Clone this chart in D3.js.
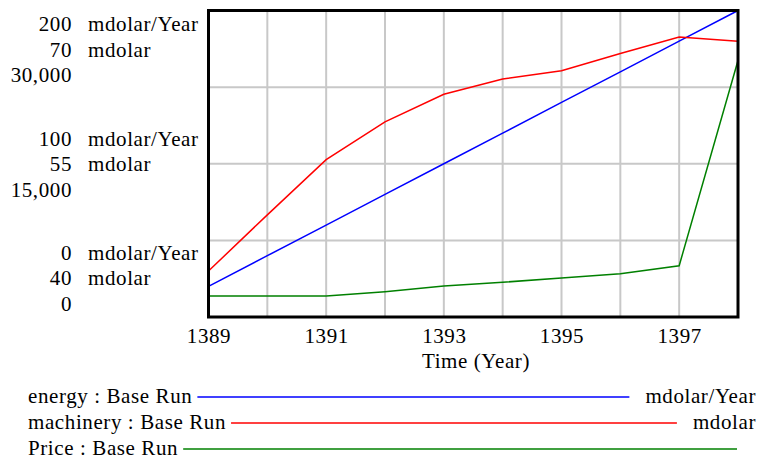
<!DOCTYPE html>
<html><head><meta charset="utf-8">
<script src="https://cdn.jsdelivr.net/npm/d3@7"></script>
<style>
html,body{margin:0;padding:0;background:#fff;}
text{font-family:"Liberation Serif","Times New Roman",serif;font-size:21px;fill:#000;letter-spacing:0.6px;}
</style></head><body>
<svg id="chart" width="757" height="459"></svg>
<script>
const years = [1389,1390,1391,1392,1393,1394,1395,1396,1397,1398];
const energy = [20,40,60,80,100,120,140,160,180,200];
const machinery = [44.5,50.0,55.4,59.1,61.8,63.3,64.1,65.8,67.4,67.0];
const price = [2050,2050,2050,2480,3030,3400,3820,4240,5020,25100];
const xTicks = [1389,1391,1393,1395,1397];
const energyLabels = ["0","100","200"];
const machineryLabels = ["40","55","70"];
const priceLabels = ["0","15,000","30,000"];
const seriesNames = ["energy : Base Run","machinery : Base Run","Price : Base Run"];
const seriesUnits = ["mdolar/Year","mdolar",""];
const colors = ["#0000ff","#ff0000","#008000"];
const legendColors = ["#4040ff","#ff4040","#40a040"];

const svg = d3.select("#chart");
const L=208.5, R=738, T=10.5, B=317;
const x = d3.scaleLinear().domain([1389,1398]).range([L,R]);
const yE = d3.scaleLinear().domain([0,200]).range([B,T]);
const yM = d3.scaleLinear().domain([40,70]).range([B,T]);
const yP = d3.scaleLinear().domain([0,30000]).range([B,T]);
const yG = d3.scaleLinear().domain([0,4]).range([B,T]);

// grid
const g = svg.append("g");
g.selectAll(".vg").data(d3.range(1390,1398)).join("line")
  .attr("x1",d=>x(d)).attr("x2",d=>x(d)).attr("y1",T).attr("y2",B)
  .attr("stroke","#c8c8c8").attr("stroke-width",2);
g.selectAll(".hg").data([1,2,3]).join("line")
  .attr("x1",L).attr("x2",R).attr("y1",d=>yG(d)).attr("y2",d=>yG(d))
  .attr("stroke","#c8c8c8").attr("stroke-width",2);

// lines
const sets = [[energy,yE],[machinery,yM],[price,yP]];
sets.forEach(([vals,ys],i)=>{
  svg.append("path").datum(vals)
    .attr("fill","none").attr("stroke",colors[i]).attr("stroke-width",1.5)
    .attr("d", d3.line().x((d,j)=>x(years[j])).y(d=>ys(d)));
});

// frame
svg.append("rect").attr("x",L).attr("y",T).attr("width",R-L).attr("height",B-T)
  .attr("fill","none").attr("stroke","#000").attr("stroke-width",3);

// x axis labels
const xa = d3.axisBottom(x).tickValues(xTicks).tickSize(0).tickFormat(d3.format("d"));
const ax = svg.append("g").attr("transform",`translate(0,${B})`).call(xa);
ax.select(".domain").remove();
ax.selectAll("text").attr("dy",null).attr("y",26).style("font-size","21px").style("font-family","Liberation Serif");
svg.append("text").attr("x",476).attr("y",368).attr("text-anchor","middle").text("Time (Year)");

// y labels (Vensim style stacks)
const groups = [
  {base:[31,56.5,82], idx:2},
  {base:[145.7,171.3,196.9], idx:1},
  {base:[259.5,285.1,310.7], idx:0}
];
groups.forEach(gr=>{
  const labs = [energyLabels[gr.idx], machineryLabels[gr.idx], priceLabels[gr.idx]];
  labs.forEach((t,k)=>{
    svg.append("text").attr("x",72).attr("y",gr.base[k]).attr("text-anchor","end").text(t);
    if(seriesUnits[k]) svg.append("text").attr("x",88).attr("y",gr.base[k]).text(seriesUnits[k]);
  });
});

// legend
const legY = [397,423,449];
seriesNames.forEach((n,i)=>{
  const t = svg.append("text").attr("x",28).attr("y",legY[i]+5.5).text(n);
  const w = t.node().getComputedTextLength();
  let x2 = 737;
  if(seriesUnits[i]){
    const u = svg.append("text").attr("x",756).attr("y",legY[i]+5.5).attr("text-anchor","end").text(seriesUnits[i]);
    x2 = 756 - u.node().getComputedTextLength() - 16;
  }
  svg.append("line").attr("x1",28+w+5).attr("x2",x2).attr("y1",legY[i]).attr("y2",legY[i])
    .attr("stroke",legendColors[i]).attr("stroke-width",2);
});
</script>
</body></html>
